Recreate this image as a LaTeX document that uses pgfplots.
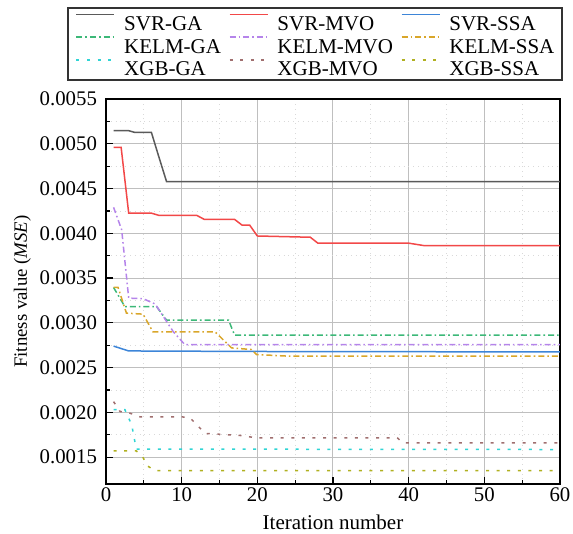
\documentclass[border=0pt]{standalone}
\usepackage{pgfplots}
\pgfplotsset{compat=1.18}
\usepackage{fontspec}
\setmainfont{Liberation Serif}

\definecolor{cSVRGA}{HTML}{5A5A5A}
\definecolor{cSVRMVO}{HTML}{F24848}
\definecolor{cSVRSSA}{HTML}{3D85D8}
\definecolor{cKELMGA}{HTML}{3CB878}
\definecolor{cKELMMVO}{HTML}{B584EA}
\definecolor{cKELMSSA}{HTML}{D9A62A}
\definecolor{cXGBGA}{HTML}{30D4D4}
\definecolor{cXGBMVO}{HTML}{A06E6E}
\definecolor{cXGBSSA}{HTML}{B0B020}

\tikzset{
  dashdot/.style={dash pattern=on 3pt off 1.5pt on 0.8pt off 1.5pt},
  dotline/.style={dash pattern=on 1.5pt off 3.8pt},
}

\begin{document}
\begin{tikzpicture}[font=\fontsize{10.4}{12.4}\selectfont]
\begin{axis}[
  scale only axis,
  width=227pt, height=192.5pt,
  xmin=0, xmax=60, ymin=0.0012, ymax=0.0055,
  xtick={0,10,...,60},
  minor xtick={5,15,...,55},
  ytick={0.0015,0.0020,...,0.0055},
  minor ytick={0.00175,0.00225,...,0.00525},
  scaled y ticks=false,
  yticklabel style={xshift=-1pt, /pgf/number format/.cd, fixed, fixed zerofill, precision=4},
  /pgf/number format/assume math mode=true,
  tick label style={font=\fontsize{10.4}{12.4}\selectfont},
  xticklabel style={yshift=1.7pt},
  xtick pos=bottom, ytick pos=left,
  tick align=inside,
  major tick length=3.3pt, minor tick length=2pt,
  tick style={black, line width=0.6pt},
  axis line style={black, line width=0.8pt},
  grid=both,
  major grid style={gray!50, line width=0.5pt},
  minor grid style={gray!30, dotted, line width=0.4pt},
  xlabel={Iteration number},
  ylabel={Fitness value (\textit{MSE})},
  every axis x label/.style={at={(axis description cs:0.5,0)}, anchor=base, yshift=-22.75pt, font=\fontsize{10.5}{12.6}\selectfont},
  every axis y label/.style={at={(axis description cs:0,0.5)}, xshift=-39.5pt, rotate=90, anchor=base, font=\fontsize{9.4}{11.3}\selectfont},
  legend columns=3,
  legend cell align=left,
  legend style={
    at={(0,1)}, anchor=center, xshift=104.5pt, yshift=27.4pt,
    draw=none, fill=none,
    font=\fontsize{10.5}{12.6}\selectfont,
    inner xsep=4.5pt, inner ysep=0.8pt,
    nodes={inner sep=0pt, text height=10.15pt, text depth=1.2pt},
    row sep=0pt,
    /tikz/every odd column/.append style={column sep=4.5pt},
    /tikz/every even column/.append style={column sep=3.9pt},
  },
  legend image code/.code={\draw[#1, line width=0.8pt] (0pt,3.6pt) -- (19pt,3.6pt);},
  every axis plot/.append style={line width=0.75pt},
]
% SVR group
\addplot[color=cSVRGA] coordinates {(1,0.005146) (3,0.005146) (3.8,0.005127) (6,0.005127) (6.9,0.004877) (8,0.004578) (60,0.004578)};
\addlegendentry{SVR-GA}
\addplot[color=cSVRMVO] coordinates {(1,0.00496) (2,0.00496) (3,0.004225) (6,0.004225) (7,0.0042) (12,0.0042) (13,0.004155) (17,0.004155) (18,0.00409) (19,0.00409) (20,0.00397) (27,0.003956) (28,0.00389) (40,0.00389) (42,0.003863) (60,0.003863)};
\addlegendentry{SVR-MVO}
\addplot[color=cSVRSSA] coordinates {(1,0.00274) (3,0.002686) (20,0.00268) (60,0.002675)};
\addlegendentry{SVR-SSA}
% KELM group
\addplot[color=cKELMGA, dashdot] coordinates {(1,0.003395) (2.5,0.00318) (6.7,0.00318) (8,0.00303) (16.2,0.00303) (17,0.002862) (60,0.002862)};
\addlegendentry{KELM-GA}
\addplot[color=cKELMMVO, dashdot] coordinates {(1,0.00429) (2.07,0.00404) (3,0.003276) (4.9,0.00327) (6.5,0.00321) (8.9,0.0029) (10.4,0.002758) (60,0.002758)};
\addlegendentry{KELM-MVO}
\addplot[color=cKELMSSA, dashdot] coordinates {(1,0.003395) (1.6,0.003395) (2.7,0.003108) (4.9,0.003097) (6.2,0.0029) (14.4,0.0029) (16.6,0.00272) (19.2,0.002702) (19.9,0.002646) (24.3,0.002627) (60,0.002627)};
\addlegendentry{KELM-SSA}
% XGB group
\addplot[color=cXGBGA, dotline] coordinates {(1,0.00203) (2.5,0.00203) (3.4,0.00186) (4,0.00159) (60,0.001585)};
\addlegendentry{XGB-GA}
\addplot[color=cXGBMVO, dotline] coordinates {(1,0.00212) (1.85,0.00201) (3.2,0.00199) (4.5,0.00195) (10,0.00195) (11.1,0.00194) (13.1,0.001765) (18.1,0.00174) (19.7,0.001716) (38.5,0.001716) (39.2,0.00166) (60,0.00166)};
\addlegendentry{XGB-MVO}
\addplot[color=cXGBSSA, dotline] coordinates {(1,0.00157) (4,0.00157) (4.8,0.00151) (5.5,0.0014) (6.5,0.00135) (60,0.00135)};
\addlegendentry{XGB-SSA}
\end{axis}
% frame of the legend box
\draw[black!80, line width=1pt]
  ([xshift=-18.85pt,yshift=9.5pt]current axis.north west) rectangle
  ([xshift=0.85pt,yshift=45.35pt]current axis.north east);
% page frame around the plot, legend and labels
\pgfresetboundingbox
\path[use as bounding box] (current axis.south west) ++(-53pt,-25pt) rectangle ++(286.5pt,267pt);
\end{tikzpicture}
\end{document}
